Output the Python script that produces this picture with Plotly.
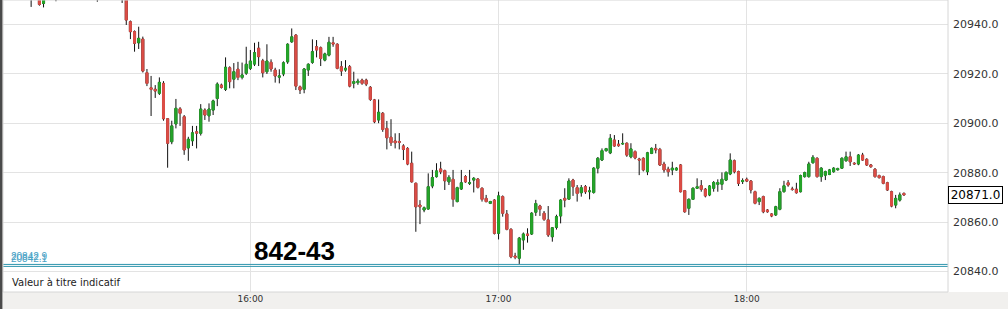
import pandas as pd
import plotly.graph_objects as go

# 1-minute candles, first candle at 15:07
start_time = "2024-03-15 15:07"

open_ = [20953.0, 20954.0, 20952.0, 20948.4, 20951.0, 20954.0, 20955.0, 20952.0, 20954.0, 20957.0,
         20959.0, 20957.0, 20958.0, 20956.5, 20955.0, 20956.0, 20953.0, 20952.0, 20954.0, 20953.0,
         20955.0, 20954.0, 20952.5, 20951.0, 20941.0, 20937.0, 20932.5, 20934.0, 20920.4, 20914.3,
         20913.7, 20912.1, 20916.1, 20901.8, 20892.5, 20899.7, 20905.8, 20902.6, 20890.0, 20892.9,
         20896.5, 20895.9, 20905.3, 20903.0, 20905.3, 20910.0, 20915.4, 20913.7, 20922.4, 20917.8,
         20921.8, 20918.5, 20920.2, 20922.2, 20923.9, 20930.3, 20925.2, 20920.8, 20924.6, 20921.5,
         20918.6, 20919.9, 20924.8, 20932.9, 20935.6, 20914.7, 20913.7, 20921.5, 20924.6, 20930.9,
         20930.5, 20925.5, 20927.5, 20932.5, 20931.9, 20922.8, 20921.5, 20922.8, 20916.1, 20916.4,
         20917.4, 20917.4, 20914.5, 20909.4, 20901.3, 20904.0, 20897.9, 20894.3, 20892.8, 20892.6,
         20890.8, 20889.8, 20883.8, 20875.7, 20866.9, 20864.9, 20865.3, 20874.6, 20878.4, 20881.5,
         20880.8, 20876.3, 20877.3, 20868.3, 20873.4, 20878.4, 20875.7, 20877.0, 20877.4, 20873.7,
         20869.6, 20867.6, 20868.9, 20855.5, 20870.3, 20863.3, 20857.1, 20846.3, 20845.4, 20852.8,
         20855.2, 20855.2, 20864.0, 20866.5, 20863.6, 20860.9, 20854.1, 20857.9, 20862.5, 20869.6,
         20869.3, 20877.0, 20873.9, 20871.9, 20874.3, 20872.3, 20872.0, 20881.8, 20885.1, 20888.9,
         20888.0, 20893.2, 20891.5, 20891.6, 20891.9, 20886.4, 20888.5, 20885.5, 20885.8, 20880.4,
         20887.8, 20889.8, 20889.4, 20883.5, 20881.4, 20881.1, 20881.1, 20883.1, 20872.7, 20865.6,
         20869.2, 20873.7, 20874.7, 20873.3, 20871.0, 20873.7, 20875.3, 20875.3, 20877.0, 20879.5,
         20884.8, 20880.4, 20876.4, 20877.3, 20876.6, 20872.3, 20868.3, 20870.3, 20864.9, 20863.3,
         20862.9, 20865.2, 20872.3, 20875.9, 20873.4, 20873.3, 20872.3, 20878.4, 20878.4, 20884.0,
         20885.8, 20878.4, 20879.0, 20879.3, 20880.4, 20881.2, 20881.8, 20884.8, 20886.4, 20883.8,
         20883.5, 20887.1, 20885.4, 20883.1, 20881.4, 20878.8, 20878.4, 20875.9, 20872.3, 20866.9,
         20868.9, 20871.6]

high = [20956.0, 20957.0, 20953.0, 20952.0, 20955.0, 20957.0, 20956.0, 20955.0, 20958.0, 20960.0,
        20961.0, 20959.0, 20960.0, 20958.0, 20957.0, 20958.0, 20954.0, 20955.0, 20956.0, 20956.0,
        20957.0, 20956.0, 20954.0, 20953.0, 20941.5, 20937.5, 20939.0, 20935.0, 20921.9, 20919.1,
        20915.4, 20918.5, 20917.0, 20902.0, 20901.0, 20909.8, 20906.5, 20903.3, 20894.5, 20898.9,
        20898.9, 20907.7, 20906.0, 20908.0, 20909.5, 20916.5, 20916.0, 20926.6, 20923.0, 20924.3,
        20924.8, 20924.5, 20930.9, 20929.6, 20932.5, 20932.9, 20926.0, 20931.9, 20925.8, 20922.4,
        20921.8, 20925.0, 20932.3, 20938.3, 20936.0, 20915.2, 20922.3, 20924.2, 20933.9, 20933.6,
        20931.0, 20928.5, 20934.9, 20934.9, 20932.3, 20925.1, 20925.5, 20923.5, 20920.8, 20918.0,
        20918.0, 20918.0, 20915.0, 20909.8, 20909.6, 20904.5, 20900.9, 20901.6, 20895.9, 20896.0,
        20891.5, 20890.3, 20888.5, 20876.0, 20868.9, 20866.3, 20879.7, 20881.1, 20883.8, 20884.4,
        20881.2, 20879.0, 20881.1, 20874.3, 20881.1, 20879.0, 20881.1, 20878.2, 20877.8, 20874.0,
        20871.0, 20868.6, 20869.3, 20872.3, 20870.8, 20864.9, 20857.5, 20847.6, 20854.0, 20855.8,
        20857.5, 20864.0, 20869.0, 20867.0, 20864.5, 20866.5, 20858.0, 20863.0, 20869.3, 20873.7,
        20877.7, 20877.5, 20875.0, 20875.0, 20875.0, 20874.3, 20882.2, 20886.3, 20889.8, 20890.0,
        20895.6, 20895.2, 20893.2, 20895.9, 20892.2, 20891.9, 20889.0, 20886.0, 20886.2, 20888.4,
        20890.2, 20891.6, 20890.0, 20884.4, 20882.4, 20884.4, 20882.2, 20883.5, 20873.0, 20869.6,
        20874.0, 20877.7, 20877.0, 20873.8, 20875.0, 20876.6, 20877.3, 20880.1, 20880.5, 20887.8,
        20885.3, 20880.8, 20877.7, 20878.0, 20877.0, 20872.7, 20870.0, 20870.7, 20865.3, 20863.6,
        20866.6, 20873.7, 20876.7, 20877.0, 20874.3, 20875.9, 20879.2, 20880.4, 20884.4, 20887.1,
        20886.2, 20882.2, 20880.8, 20881.5, 20882.2, 20882.0, 20886.2, 20888.5, 20888.5, 20884.2,
        20887.5, 20888.0, 20885.8, 20883.5, 20881.8, 20879.2, 20878.8, 20876.3, 20872.7, 20871.0,
        20872.0, 20872.0]

low = [20947.0, 20951.0, 20947.5, 20946.8, 20950.5, 20952.0, 20949.3, 20951.0, 20953.0, 20956.0,
       20956.0, 20955.0, 20956.0, 20954.0, 20953.0, 20952.0, 20949.1, 20951.0, 20952.0, 20952.0,
       20953.0, 20951.5, 20948.6, 20939.7, 20934.0, 20928.9, 20930.0, 20920.5, 20915.0, 20902.9,
       20910.2, 20911.4, 20901.0, 20882.0, 20891.5, 20897.9, 20898.9, 20887.2, 20884.8, 20890.8,
       20889.8, 20895.0, 20901.3, 20900.6, 20903.3, 20906.9, 20914.0, 20913.0, 20914.1, 20914.1,
       20917.4, 20917.7, 20919.5, 20921.5, 20923.1, 20923.1, 20918.5, 20919.9, 20920.8, 20916.4,
       20916.1, 20919.0, 20924.0, 20932.5, 20913.4, 20911.8, 20912.1, 20919.1, 20924.0, 20926.6,
       20923.1, 20925.0, 20927.0, 20930.9, 20921.8, 20919.1, 20920.8, 20914.5, 20914.1, 20915.5,
       20915.5, 20915.0, 20909.0, 20900.0, 20900.0, 20896.5, 20889.4, 20890.8, 20889.8, 20889.4,
       20885.1, 20883.0, 20876.0, 20856.1, 20859.2, 20864.0, 20865.0, 20873.7, 20878.0, 20879.4,
       20873.0, 20875.0, 20866.2, 20868.0, 20873.0, 20875.9, 20875.0, 20872.0, 20873.6, 20868.3,
       20868.0, 20867.3, 20855.0, 20853.0, 20862.2, 20856.7, 20845.4, 20845.0, 20843.1, 20848.8,
       20851.7, 20854.8, 20862.5, 20862.5, 20860.5, 20854.0, 20852.1, 20857.0, 20859.5, 20866.0,
       20869.0, 20870.6, 20868.3, 20870.3, 20871.4, 20869.2, 20871.5, 20879.7, 20884.7, 20888.5,
       20887.5, 20890.5, 20890.5, 20891.3, 20886.4, 20885.8, 20885.4, 20879.0, 20880.5, 20879.0,
       20887.5, 20887.8, 20882.7, 20880.0, 20878.4, 20879.0, 20880.8, 20872.0, 20863.8, 20862.9,
       20869.0, 20873.5, 20872.3, 20870.0, 20870.5, 20872.3, 20872.3, 20873.0, 20876.6, 20879.0,
       20879.7, 20874.6, 20875.4, 20876.2, 20871.6, 20867.2, 20866.9, 20863.6, 20863.8, 20862.0,
       20862.5, 20864.8, 20872.0, 20874.3, 20872.7, 20871.5, 20872.0, 20878.0, 20878.0, 20883.7,
       20878.0, 20876.3, 20877.0, 20879.0, 20880.0, 20880.8, 20881.5, 20884.5, 20882.7, 20883.1,
       20883.0, 20884.8, 20882.7, 20882.0, 20878.0, 20877.6, 20875.3, 20872.6, 20866.0, 20865.6,
       20868.3, 20870.7]

close = [20954.0, 20952.0, 20948.0, 20951.0, 20954.0, 20955.0, 20952.0, 20954.0, 20957.0, 20959.0,
         20957.0, 20958.0, 20956.5, 20955.0, 20956.0, 20953.0, 20952.0, 20954.0, 20953.0, 20955.0,
         20954.0, 20952.5, 20951.0, 20941.7, 20937.0, 20932.3, 20934.3, 20921.1, 20916.1, 20913.7,
         20913.0, 20916.5, 20901.8, 20891.9, 20898.9, 20906.0, 20904.0, 20889.2, 20893.5, 20896.1,
         20896.0, 20905.7, 20903.3, 20905.7, 20909.0, 20915.8, 20914.5, 20922.6, 20916.8, 20920.8,
         20918.5, 20919.5, 20923.8, 20925.1, 20928.5, 20926.9, 20920.4, 20925.1, 20921.9, 20919.1,
         20919.1, 20924.4, 20931.9, 20934.9, 20915.0, 20913.4, 20921.9, 20923.8, 20928.9, 20929.6,
         20926.2, 20928.0, 20932.7, 20932.0, 20922.2, 20921.1, 20922.2, 20915.0, 20916.8, 20917.0,
         20916.1, 20915.8, 20909.6, 20900.6, 20904.4, 20897.5, 20894.1, 20892.1, 20892.1, 20892.3,
         20889.4, 20883.5, 20876.3, 20866.2, 20866.2, 20865.8, 20874.3, 20878.0, 20880.7, 20880.4,
         20876.7, 20878.1, 20869.2, 20873.9, 20875.9, 20876.3, 20875.9, 20877.7, 20874.1, 20869.2,
         20868.3, 20868.3, 20855.5, 20870.6, 20863.6, 20857.1, 20846.0, 20845.8, 20853.5, 20855.2,
         20854.7, 20863.6, 20867.5, 20865.2, 20861.1, 20854.8, 20857.7, 20862.2, 20868.9, 20868.9,
         20876.6, 20874.3, 20871.6, 20873.9, 20872.3, 20872.6, 20881.8, 20885.8, 20888.9, 20889.7,
         20893.9, 20890.8, 20890.9, 20891.8, 20887.1, 20889.6, 20886.0, 20885.1, 20881.1, 20888.0,
         20889.8, 20889.2, 20883.1, 20881.1, 20880.4, 20881.8, 20881.8, 20872.3, 20864.2, 20869.2,
         20873.7, 20874.3, 20873.3, 20870.6, 20874.6, 20876.0, 20876.0, 20877.3, 20880.1, 20885.1,
         20880.4, 20875.7, 20876.8, 20876.6, 20873.0, 20867.6, 20869.6, 20864.2, 20864.2, 20862.5,
         20866.2, 20872.3, 20874.7, 20875.0, 20873.2, 20871.9, 20878.8, 20880.0, 20883.5, 20886.2,
         20878.4, 20881.8, 20880.4, 20881.1, 20881.8, 20881.6, 20885.8, 20886.4, 20884.4, 20883.6,
         20887.1, 20885.1, 20883.1, 20882.4, 20878.4, 20878.0, 20875.7, 20873.0, 20866.5, 20869.6,
         20871.0, 20871.0]

tick_times = ["2024-03-15 16:00", "2024-03-15 17:00", "2024-03-15 18:00"]
tick_labels = ["16:00", "17:00", "18:00"]
y_ticks = [20840, 20860, 20880, 20900, 20920, 20940]
ref_levels = [20842.9, 20842.1]
ref_labels = ["20842.9", "20842.1"]
last_price = 20871.0
big_label = "842-43"
note_label = "Valeur à titre indicatif"

times = pd.date_range(start_time, periods=len(close), freq="min")
body_top = [max(o, c) for o, c in zip(open_, close)]
body_bot = [min(o, c) for o, c in zip(open_, close)]

RED = "#dc4d46"
GREEN = "#25a52a"
TEAL = "#2e95ad"

fig = go.Figure()
# wicks (black)
fig.add_trace(go.Candlestick(
    x=times, open=open_, high=high, low=low, close=close,
    increasing=dict(line=dict(color="#111111", width=1), fillcolor="#111111"),
    decreasing=dict(line=dict(color="#111111", width=1), fillcolor="#111111"),
    whiskerwidth=0, hoverinfo="skip"))
# coloured bodies
fig.add_trace(go.Candlestick(
    x=times, open=open_, high=body_top, low=body_bot, close=close,
    increasing=dict(line=dict(color=GREEN, width=1), fillcolor=GREEN),
    decreasing=dict(line=dict(color=RED, width=1), fillcolor=RED),
    whiskerwidth=0))

shapes = []
for lv in ref_levels:
    shapes.append(dict(type="line", xref="paper", x0=0, x1=1, yref="y", y0=lv, y1=lv,
                       line=dict(color=TEAL, width=1)))
shapes.append(dict(type="rect", xref="paper", yref="paper", x0=0, x1=1, y0=0, y1=1,
                   line=dict(color="#d6d6d6", width=1)))
shapes.append(dict(type="rect", xref="paper", yref="paper", x0=-3 / 945, x1=-0.6 / 945,
                   y0=-17 / 292, y1=1, line=dict(width=0), fillcolor="#4a4a4a"))
shapes.append(dict(type="rect", xref="paper", yref="paper", x0=1, x1=1 + 60 / 945,
                   y0=0, y1=1, line=dict(width=0), fillcolor="white", layer="below"))

annotations = []
for i, (lv, lab) in enumerate(zip(ref_levels, ref_labels)):
    annotations.append(dict(xref="paper", yref="y", x=6 / 945, y=lv, text=lab,
                            xanchor="left", yanchor="bottom", yshift=0, showarrow=False,
                            font=dict(family="Liberation Sans, Arial", size=10, color="#4aa3c6")))
annotations.append(dict(xref="paper", yref="paper", x=(294 - 3) / 945, y=(292 - 251) / 292,
                        text="<b>" + big_label + "</b>", showarrow=False,
                        xanchor="center", yanchor="middle",
                        font=dict(family="Liberation Sans, Arial", size=26, color="#000000")))
annotations.append(dict(xref="paper", yref="paper", x=(10 - 3) / 945, y=(292 - 282.5) / 292,
                        text=note_label, showarrow=False, xanchor="left", yanchor="middle",
                        font=dict(family="DejaVu Sans", size=10, color="#222222")))
annotations.append(dict(xref="paper", yref="y", x=1, y=last_price, text=f"{last_price:.1f}",
                        showarrow=False, xanchor="left", yanchor="middle",
                        width=51, height=14, borderpad=1, bordercolor="#000000", borderwidth=1,
                        bgcolor="#ffffff",
                        font=dict(family="DejaVu Sans", size=12, color="#000000")))

fig.update_layout(
    width=1008, height=309,
    margin=dict(l=3, r=60, t=0, b=17),
    paper_bgcolor="#f1f0ee", plot_bgcolor="#ffffff",
    showlegend=False, boxgap=0.3,
    shapes=shapes, annotations=annotations,
    xaxis=dict(type="date", range=["2024-03-15 15:00:12", "2024-03-15 18:48:39"],
               tickvals=tick_times, ticktext=tick_labels,
               showgrid=True, gridcolor="#e3e3e3", gridwidth=1,
               zeroline=False, showline=False, ticks="",
               rangeslider=dict(visible=False),
               tickfont=dict(family="DejaVu Sans", size=9, color="#333333")),
    yaxis=dict(side="right", range=[20831.75, 20949.8], tickvals=y_ticks,
               tickformat=".1f", showgrid=True, gridcolor="#e3e3e3", gridwidth=1,
               zeroline=False, showline=False, ticks="", ticklabelstandoff=4,
               tickfont=dict(family="DejaVu Sans", size=11, color="#333333")),
)

fig.write_html("out.html", config={"displayModeBar": False})
